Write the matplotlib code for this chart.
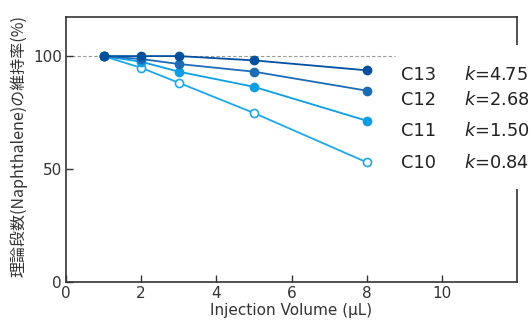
import matplotlib
matplotlib.use("Agg")
import matplotlib.pyplot as plt
from matplotlib.patches import Rectangle

x = [1, 2, 3, 5, 8]
c13 = [100, 100, 100, 98.1, 93.7]
c12 = [100, 98.7, 96.5, 93.1, 84.7]
c11 = [100, 97.5, 93.1, 86.4, 71.4]
c10 = [100, 94.8, 88.2, 74.8, 53.0]
names = ["C13", "C12", "C11", "C10"]
kvals = ["4.75", "2.68", "1.50", "0.84"]
series = [c13, c12, c11, c10]
label_y = [91.6, 80.5, 66.8, 52.7]
colors = ["#0050a0", "#1a6cb8", "#0a9fe6", "#1aa9ee"]
xticks = [0, 2, 4, 6, 8, 10]
yticks = [0, 50, 100]

W, H = 531, 323
fig = plt.figure(figsize=(W / 100, H / 100), dpi=100)
ax = fig.add_axes([66 / W, 41 / H, 451 / W, 265 / H])
ax.set_xlim(0, 12)
ax.set_ylim(0, 117.3)

ax.plot([0, 8.75], [100, 100], ls=(0, (3, 2)), color="#999999", lw=0.8, zorder=1)

for i, vals in enumerate(series):
    open_m = (names[i] == "C10")
    ax.plot(x, vals, color=colors[i], lw=1.3, marker="o", ms=5.8,
            mfc="white" if open_m else colors[i], mec=colors[i], mew=1.2, zorder=3 + (3 - i))
    ax.text(8.91, label_y[i], names[i], fontsize=12.8, color="#222222",
            va="center", ha="left", zorder=10, family="DejaVu Sans", clip_on=False)
    ax.text(10.58, label_y[i], "$k$=" + kvals[i], fontsize=12.8, color="#222222",
            va="center", ha="left", zorder=10, family="DejaVu Sans", clip_on=False)

ax.set_xticks(xticks)
ax.set_yticks(yticks)
ax.tick_params(direction="in", length=5, width=1, labelsize=11, colors="#333333", pad=3)
for s in ax.spines.values():
    s.set_color("#333333")
    s.set_linewidth(1.2)

ax.set_xlabel("Injection Volume (μL)", fontsize=11, color="#333333", labelpad=1)
ax.set_ylabel("理論段数(Naphthalene)の維持率(%)", fontsize=11.5, color="#333333",
              family=["Noto Sans CJK JP", "DejaVu Sans"])
ax.yaxis.set_label_coords(-0.085, 0.515)

ax.add_patch(Rectangle((505 / W, 1 - 189 / H), 26 / W, 144 / H,
                       transform=fig.transFigure, facecolor="white",
                       edgecolor="none", zorder=4, clip_on=False))

fig.savefig("out.png", dpi=100)
